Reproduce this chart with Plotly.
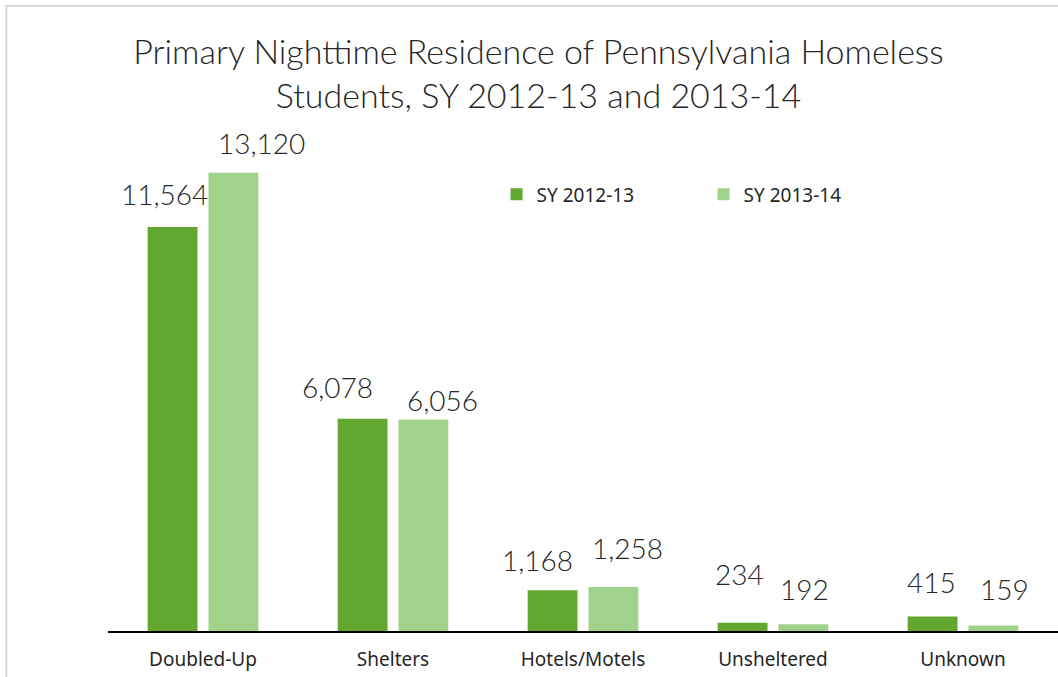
import plotly.graph_objects as go

categories = ["Doubled-Up", "Shelters", "Hotels/Motels", "Unsheltered", "Unknown"]
series_names = ["SY 2012-13", "SY 2013-14"]
sy_2012_13 = [11564, 6078, 1168, 234, 415]
sy_2013_14 = [13120, 6056, 1258, 192, 159]

# label nudges (px) relative to the top centre of each bar, as placed in the original
label_dx = [[-8, 28], [-25, 19], [-15, 14], [-3, 1], [-1, 11]]
label_dy = [[33, 30], [32, 19], [30, 39], [49, 35], [35, 36]]

DARK = "#62A830"
LIGHT = "#A1D28B"
FONT = "Lato"
SMALL_FONT = "Noto Sans"
TEXT = "#262626"

fig = go.Figure()
for name, vals, col in [(series_names[0], sy_2012_13, DARK),
                        (series_names[1], sy_2013_14, LIGHT)]:
    fig.add_trace(go.Bar(x=categories, y=vals, name=name, marker_color=col,
                         marker_line_width=0, hoverinfo="x+y"))

bar_off = [-30.5, 30.5]
for i, cat in enumerate(categories):
    for j, vals in enumerate([sy_2012_13, sy_2013_14]):
        fig.add_annotation(
            x=cat, y=vals[i], text=f"{vals[i]:,}", showarrow=False,
            xshift=bar_off[j] + label_dx[i][j], yshift=label_dy[i][j],
            yanchor="middle", font=dict(family=FONT, size=28, color=TEXT, weight=300),
        )

# outer chart border (runs off the right/bottom edge in the original)
fig.add_shape(type="rect", xref="paper", yref="paper",
              x0=-0.107, x1=1.05, y0=-0.2, y1=1.278,
              line=dict(color="#D9D9D9", width=2), fillcolor="rgba(0,0,0,0)")

fig.update_layout(
    width=1058, height=677,
    margin=dict(l=108, r=0, t=142, b=46),
    paper_bgcolor="white", plot_bgcolor="white",
    title=dict(text="Primary Nighttime Residence of Pennsylvania Homeless<br>Students, SY 2012-13 and 2013-14",
               x=0.509, xanchor="center", y=0.906, yanchor="middle",
               font=dict(family=FONT, size=34, color=TEXT, weight=300)),
    barmode="group", bargap=0.36, bargroupgap=0.18,
    showlegend=True,
    legend=dict(orientation="h", x=0.409, y=0.893, xanchor="left", yanchor="middle",
                font=dict(family=SMALL_FONT, size=19, color=TEXT),
                entrywidth=162, entrywidthmode="pixels",
                bgcolor="rgba(0,0,0,0)", itemclick=False),
    xaxis=dict(showline=True, linecolor="black", linewidth=2, ticks="",
               tickfont=dict(family=SMALL_FONT, size=19, color=TEXT),
               showgrid=False, ticklabelstandoff=10, range=[-0.5, 4.5]),
    yaxis=dict(range=[0, 14000], visible=False, showgrid=False, zeroline=False),
)

fig.write_html("out.html", config={"displayModeBar": False},
               post_script="document.body.style.margin='0';")
